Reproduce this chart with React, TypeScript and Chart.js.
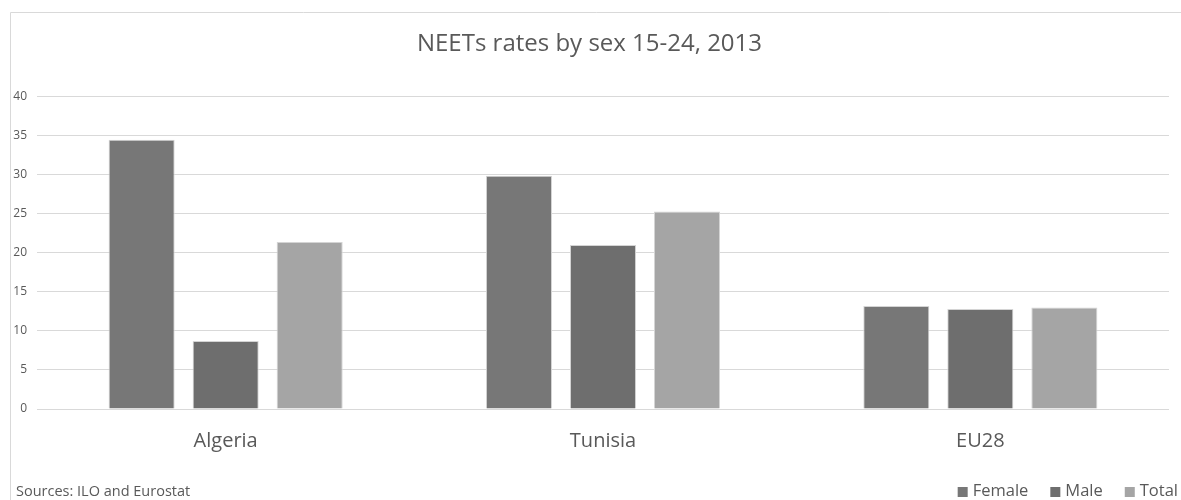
import React, { useEffect, useRef } from "react";
import { Chart, registerables } from "chart.js";

Chart.register(...registerables);

const chartTitle = "NEETs rates by sex 15-24, 2013";
const sourceNote = "Sources: ILO and Eurostat";
const categories = ["Algeria", "Tunisia", "EU28"];
const seriesNames = ["Female", "Male", "Total"];
const femaleValues = [34.5, 29.9, 13.2];
const maleValues = [8.7, 21.0, 12.8];
const totalValues = [21.4, 25.3, 13.0];
const seriesColors = ["#777777", "#6e6e6e", "#a5a5a5"];
const yTickMax = 40;
const yTickStep = 5;

const FONT = "'Open Sans', 'Noto Sans', sans-serif";
const TEXT = "#595959";

const framePlugin = {
  id: "framePlugin",
  beforeDraw(chart: any) {
    const ctx = chart.ctx;
    ctx.save();
    ctx.strokeStyle = "#d9d9d9";
    ctx.lineWidth = 1;
    ctx.beginPath();
    ctx.moveTo(10.5, chart.height + 5);
    ctx.lineTo(10.5, 12.5);
    ctx.lineTo(chart.width + 5, 12.5);
    ctx.stroke();
    ctx.restore();
  },
  afterDraw(chart: any) {
    const ctx = chart.ctx;
    ctx.save();
    // source note
    ctx.fillStyle = TEXT;
    ctx.font = `14.5px ${FONT}`;
    ctx.textAlign = "left";
    ctx.textBaseline = "middle";
    ctx.fillText(sourceNote, 16, 492);
    // legend (right-aligned)
    ctx.font = `16.5px ${FONT}`;
    const box = 10;
    const gapBoxText = 5;
    const gapItems = 22;
    let x = 1178;
    const y = 491;
    for (let i = seriesNames.length - 1; i >= 0; i--) {
      const w = ctx.measureText(seriesNames[i]).width;
      const textX = x - w;
      ctx.fillStyle = TEXT;
      ctx.fillText(seriesNames[i], textX, y);
      const boxX = textX - gapBoxText - box;
      ctx.fillStyle = seriesColors[i];
      ctx.fillRect(boxX, y - 4, box, box);
      x = boxX - gapItems;
    }
    ctx.restore();
  },
};

export default function App() {
  const ref = useRef<HTMLCanvasElement | null>(null);
  useEffect(() => {
    if (!ref.current) return;
    const values = [femaleValues, maleValues, totalValues];
    const chart = new Chart(ref.current, {
      type: "bar",
      data: {
        labels: categories,
        datasets: seriesNames.map((name, i) => ({
          label: name,
          data: values[i],
          backgroundColor: seriesColors[i],
          borderColor: "#d4d4d4",
          borderWidth: 1,
          categoryPercentage: 0.668,
          barPercentage: 0.786,
        })),
      },
      options: {
        animation: false,
        responsive: false,
        maintainAspectRatio: false,
        layout: { padding: { left: 10, right: 12, top: 12, bottom: 0 } },
        plugins: {
          legend: { display: false },
          tooltip: { enabled: false },
          title: {
            display: true,
            text: chartTitle,
            color: TEXT,
            font: { family: FONT, size: 24, weight: "normal" },
            padding: { top: 18, bottom: 38 },
          },
        },
        scales: {
          x: {
            grid: { display: false, drawTicks: false },
            border: { display: false },
            ticks: {
              color: TEXT,
              font: { family: FONT, size: 20 },
              padding: 20,
            },
            afterFit: (s: any) => {
              s.height = 91;
            },
          },
          y: {
            min: 0,
            max: yTickMax,
            grid: { color: "#d9d9d9", drawTicks: false },
            border: { display: false },
            ticks: {
              stepSize: yTickStep,
              color: TEXT,
              font: { family: FONT, size: 12 },
              padding: 10,
            },
            afterFit: (s: any) => {
              s.width = 27;
            },
          },
        },
      },
      plugins: [framePlugin],
    });
    return () => chart.destroy();
  }, []);
  return (
    <div style={{ position: "absolute", left: 0, top: 0, width: 1181, height: 500, background: "#fff" }}>
      <canvas ref={ref} width={1181} height={500} style={{ display: "block" }} />
    </div>
  );
}
